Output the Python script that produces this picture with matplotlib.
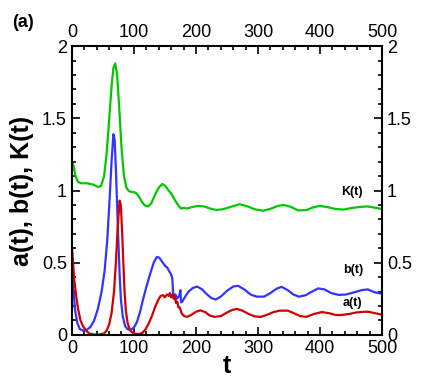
import matplotlib
matplotlib.use('Agg')
import matplotlib.pyplot as plt
from matplotlib.ticker import MultipleLocator

plt.rcParams['font.family'] = ['Liberation Sans', 'DejaVu Sans']

# K(t)
t_k = [0, 3, 6, 10, 15, 25, 35, 42, 47, 52, 56, 60, 64, 67, 70, 73, 76, 80, 84, 88,
       92, 97, 103, 108, 113, 118, 123, 128, 134, 140, 146, 151, 156, 160, 164, 168,
       172, 176, 180, 186, 193, 203, 213, 223, 233, 243, 255, 270, 282, 295, 308, 320,
       332, 341, 352, 365, 378, 390, 400, 412, 425, 438, 450, 462, 476, 487, 500]
k_vals = [1.2, 1.17, 1.1, 1.06, 1.05, 1.05, 1.04, 1.025, 1.03, 1.1, 1.25, 1.48, 1.72,
          1.85, 1.88, 1.8, 1.6, 1.3, 1.1, 1.02, 0.995, 0.99, 0.985, 0.96, 0.92, 0.895,
          0.89, 0.91, 0.97, 1.02, 1.045, 1.03, 1.0, 0.98, 0.95, 0.92, 0.895, 0.875,
          0.88, 0.875, 0.885, 0.893, 0.89, 0.875, 0.865, 0.87, 0.885, 0.905, 0.892,
          0.87, 0.86, 0.873, 0.893, 0.9, 0.888, 0.862, 0.865, 0.885, 0.893, 0.885,
          0.872, 0.868, 0.878, 0.885, 0.89, 0.882, 0.872]

# b(t)
t_b = [0, 2, 5, 9, 13, 18, 24, 30, 36, 42, 48, 53, 57, 61, 64, 67, 69, 71, 73, 75, 77,
       79, 82, 86, 90, 95, 100, 105, 110, 115, 120, 126, 132, 137, 141, 145, 150, 154,
       157, 160, 162, 163, 165, 167, 169, 171, 173, 175, 176, 178, 182, 188, 195, 202,
       210, 218, 225, 232, 240, 250, 260, 268, 278, 288, 298, 310, 320, 330, 338, 348,
       357, 366, 377, 387, 397, 407, 418, 430, 442, 455, 467, 477, 488, 500]
b_vals = [0.5, 0.35, 0.18, 0.08, 0.04, 0.03, 0.035, 0.055, 0.1, 0.18, 0.3, 0.45, 0.65,
          0.95, 1.2, 1.39, 1.35, 1.15, 0.9, 0.65, 0.42, 0.25, 0.13, 0.06, 0.04, 0.035,
          0.05, 0.09, 0.16, 0.25, 0.33, 0.42, 0.5, 0.54, 0.535, 0.51, 0.48, 0.465, 0.44,
          0.42, 0.39, 0.3, 0.26, 0.28, 0.25, 0.26, 0.27, 0.31, 0.225, 0.23, 0.26, 0.3,
          0.325, 0.335, 0.315, 0.28, 0.255, 0.245, 0.265, 0.305, 0.335, 0.34, 0.315,
          0.28, 0.265, 0.265, 0.29, 0.32, 0.333, 0.31, 0.28, 0.265, 0.275, 0.3, 0.322,
          0.315, 0.29, 0.277, 0.28, 0.295, 0.31, 0.315, 0.295, 0.285]

# a(t)
t_a = [0, 2, 4, 7, 10, 14, 18, 23, 28, 35, 45, 52, 56, 60, 64, 68, 71, 74, 77, 79, 81,
       83, 85, 87, 90, 94, 100, 108, 114, 119, 124, 129, 134, 139, 143, 147, 150, 153,
       156, 158, 160, 162, 164, 166, 168, 170, 172, 174, 177, 181, 186, 193, 200, 207,
       215, 222, 230, 240, 250, 258, 266, 275, 285, 295, 305, 315, 325, 335, 348, 358,
       368, 378, 390, 403, 415, 425, 435, 447, 458, 470, 478, 487, 500]
a_vals = [0.62, 0.5, 0.38, 0.27, 0.18, 0.1, 0.06, 0.03, 0.01, 0.003, 0.003, 0.01, 0.03,
          0.07, 0.15, 0.3, 0.5, 0.75, 0.93, 0.9, 0.72, 0.5, 0.3, 0.17, 0.08, 0.03, 0.01,
          0.005, 0.015, 0.04, 0.08, 0.13, 0.19, 0.24, 0.27, 0.275, 0.26, 0.28, 0.27,
          0.29, 0.26, 0.28, 0.25, 0.26, 0.22, 0.23, 0.19, 0.19, 0.15, 0.13, 0.125, 0.14,
          0.16, 0.17, 0.158, 0.135, 0.125, 0.13, 0.155, 0.172, 0.18, 0.168, 0.145, 0.128,
          0.125, 0.14, 0.158, 0.168, 0.168, 0.15, 0.13, 0.125, 0.145, 0.158, 0.15, 0.138,
          0.138, 0.145, 0.155, 0.16, 0.16, 0.152, 0.14]

labels = ['K(t)', 'b(t)', 'a(t)']
label_pos = [(452, 0.99), (453, 0.45), (453, 0.22)]

fig = plt.figure(figsize=(4.25, 3.78), dpi=100)
ax = fig.add_axes([0.169, 0.114, 0.730, 0.764])

ax.plot(t_k, k_vals, color='#00c800', lw=1.6)
ax.plot(t_b, b_vals, color='#3333ff', lw=1.6)
ax.plot(t_a, a_vals, color='#d00000', lw=1.6)

for txt, (x, y) in zip(labels, label_pos):
    ax.text(x, y, txt, fontsize=9, fontweight='bold', ha='center', va='center')

ax.set_xlim(0, 500)
ax.set_ylim(0, 2)
ax.xaxis.set_major_locator(MultipleLocator(100))
ax.xaxis.set_minor_locator(MultipleLocator(20))
ax.yaxis.set_major_locator(MultipleLocator(0.5))
ax.yaxis.set_minor_locator(MultipleLocator(0.1))
ax.yaxis.set_major_formatter(plt.FuncFormatter(lambda v, p: f'{v:g}'))
ax.tick_params(which='both', direction='in', top=True, right=True,
               labeltop=True, labelright=True, labelsize=13, width=1.2)
ax.tick_params(which='major', length=6)
ax.tick_params(which='minor', length=3)
for s in ax.spines.values():
    s.set_linewidth(1.5)

ax.set_xlabel('t', fontsize=18, fontweight='bold', labelpad=-2)
ax.set_ylabel('a(t), b(t), K(t)', fontsize=18, fontweight='bold', labelpad=6)
fig.text(0.028, 0.928, '(a)', fontsize=13, fontweight='bold')

fig.savefig('out.png', dpi=100)
